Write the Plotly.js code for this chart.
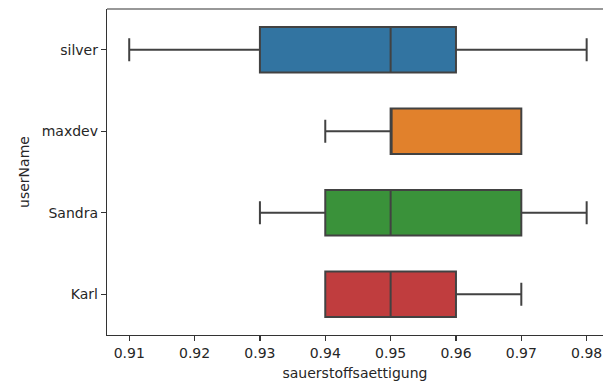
<!DOCTYPE html>
<html>
<head>
<meta charset="utf-8">
<script src="https://cdn.plot.ly/plotly-3.0.1.min.js"></script>
<style>html,body{margin:0;padding:0;background:#fff;overflow:hidden;}#chart{width:603px;height:385px;}</style>
</head>
<body>
<div id="chart"></div>
<script>
const users = ["silver", "maxdev", "Sandra", "Karl"];
const lowerWhisker = [0.91, 0.94, 0.93, 0.94];
const q1 = [0.93, 0.95, 0.94, 0.94];
const median = [0.95, 0.95, 0.95, 0.95];
const q3 = [0.96, 0.97, 0.97, 0.96];
const upperWhisker = [0.98, 0.97, 0.98, 0.97];
const colors = ["#3274a1", "#e1812c", "#3a923a", "#c03d3e"];
const xTicks = [0.91, 0.92, 0.93, 0.94, 0.95, 0.96, 0.97, 0.98];

const traces = users.map((u, i) => ({
  type: "box",
  orientation: "h",
  y: [u],
  q1: [q1[i]],
  median: [median[i]],
  q3: [q3[i]],
  lowerfence: [lowerWhisker[i]],
  upperfence: [upperWhisker[i]],
  fillcolor: colors[i],
  line: {color: "#424242", width: 2},
  whiskerwidth: 0.5,
  boxpoints: false,
  hoverinfo: "skip",
  showlegend: false
}));

const font = {family: "DejaVu Sans", size: 14, color: "#262626"};
const layout = {
  width: 603, height: 385,
  margin: {l: 107, r: 0, t: 9, b: 50},
  paper_bgcolor: "#fff", plot_bgcolor: "#fff",
  boxmode: "overlay", boxgap: 0.2,
  font: font,
  shapes: [
    {type: "rect", xref: "paper", yref: "paper", x0: 0.985, x1: 1.02, y0: 0.005, y1: 0.995,
     fillcolor: "#fff", line: {width: 0}, layer: "above"},
    {type: "line", xref: "paper", yref: "paper", x0: 0, x1: 1, y0: 1, y1: 1,
     line: {color: "#333", width: 1.2}}
  ],
  xaxis: {
    automargin: false,
    range: [0.9066, 0.9825],
    tickvals: xTicks, ticktext: xTicks.map(v => v.toFixed(2)),
    showgrid: false, zeroline: false,
    showline: true, linecolor: "#333", linewidth: 1.2,
    ticks: "outside", ticklen: 5, tickcolor: "#333", tickwidth: 1.2,
    title: {text: "sauerstoffsaettigung", font: font, standoff: 8}
  },
  yaxis: {
    automargin: false,
    type: "category",
    categoryorder: "array", categoryarray: users,
    range: [3.5, -0.5],
    showgrid: false, zeroline: false,
    showline: true, linecolor: "#333", linewidth: 1.2,
    ticks: "outside", ticklen: 5, tickcolor: "#333", tickwidth: 1.2,
    title: {text: "userName", font: font, standoff: 8}
  }
};
Plotly.newPlot("chart", traces, layout, {staticPlot: true, displayModeBar: false});
</script>
</body>
</html>
